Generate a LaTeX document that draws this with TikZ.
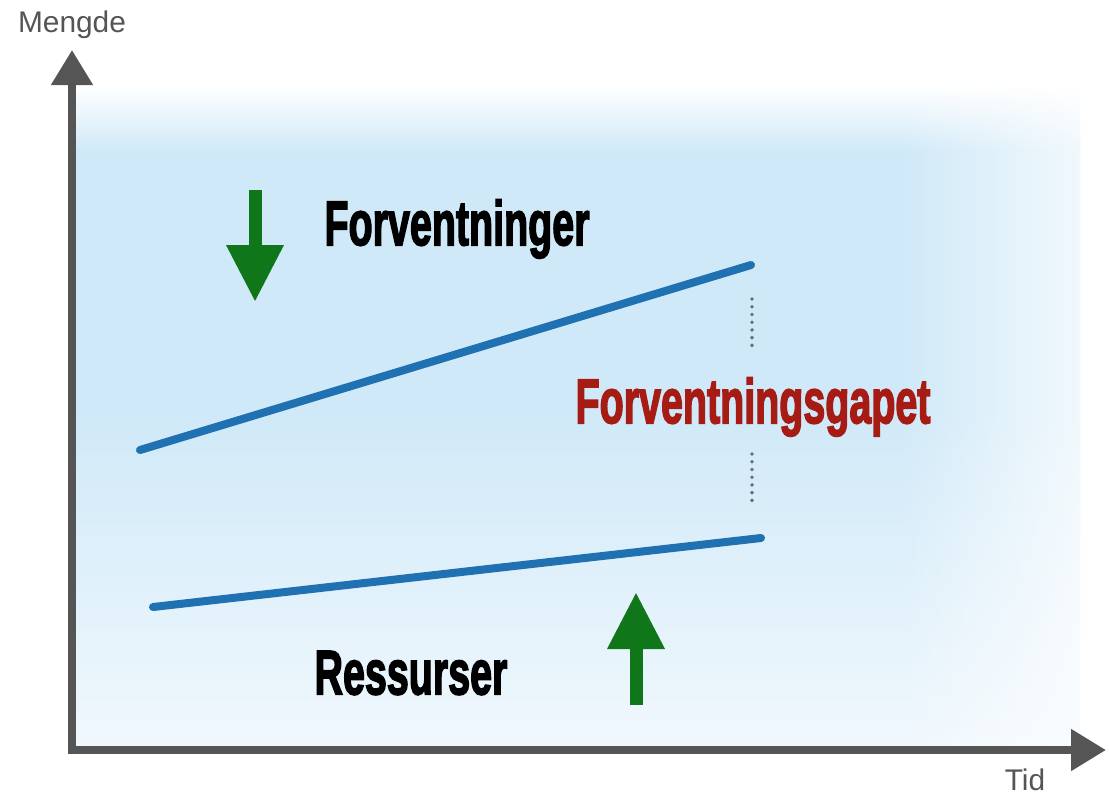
\documentclass[tikz,border=0pt]{standalone}
\usepackage{fontspec}
\setmainfont{Liberation Sans}
\newfontfamily\heavyfont[FakeBold=3]{Liberation Sans Bold}
\usepackage{tikz}
\usetikzlibrary{arrows.meta,positioning,fadings}
\definecolor{axisgray}{RGB}{85,85,85}
\definecolor{lineblue}{RGB}{31,113,178}
\definecolor{arrowgreen}{RGB}{16,118,26}
\definecolor{gapred}{RGB}{166,28,20}
\definecolor{bgblue}{RGB}{208,233,248}
\definecolor{bglight}{RGB}{240,248,253}
\pgfdeclareverticalshading{panelshade}{100bp}{color(0bp)=(bglight); color(25bp)=(bglight); color(50bp)=(bgblue); color(70bp)=(bgblue); color(75bp)=(white); color(100bp)=(white)}
\tikzfading[name=fade right, left color=transparent!100, right color=transparent!0]

\begin{document}
\begin{tikzpicture}[x=0.02cm, y=-0.02cm, inner sep=0pt]

    \tikzstyle{axis}=[draw=axisgray, line width=8*0.02cm, -{Triangle[width=0.8cm,length=0.7cm]}] \tikzstyle{trend}=[draw=lineblue, line width=8*0.02cm, line cap=round] \tikzstyle{gapline}=[draw=gray!85!black, line width=2.2pt, line cap=round, dash pattern=on 0pt off 4.4pt] \tikzstyle{change}=[draw=arrowgreen, line width=13*0.02cm, -{Triangle[width=1.08cm,length=1.14cm]}]
    \tikzstyle{axislabel}=[text=axisgray, font=\fontsize{17}{17}\selectfont] \tikzstyle{bigword}=[font=\heavyfont\fontsize{34}{34}\selectfont, xscale=0.66, yscale=1.05]

    \useasboundingbox (0,0) rectangle (1109,796);
    \shade[shading=panelshade] (72,85) rectangle (1080,746);
    \fill[white, path fading=fade right, fill opacity=0.7] (900,85) rectangle (1080,746);

    \coordinate (O) at (72,750); \coordinate (ytop) at (72,50); \coordinate (xend) at (1106,750);
    \draw[axis] ([yshift=-0.08cm] O) to (ytop);
    \draw[axis] ([xshift=-0.08cm] O) to (xend);
    \node[axislabel] (mengde) at (72,25) {Mengde};
    \node[axislabel] (tid) at (1025,780) {Tid};

    \coordinate (f0) at (140,450); \coordinate (f1) at (751,265);
    \coordinate (r0) at (153,607); \coordinate (r1) at (761,538);
    \draw[trend] (f0) to (f1);
    \draw[trend] (r0) to (r1);

    \node[bigword, text=gapred] (gap) at (753,407) {Forventningsgapet};
    \coordinate (g1) at (752,299); \coordinate (g2) at (752,352);
    \coordinate (g3) at (752,454); \coordinate (g4) at (752,507);
    \draw[gapline] (g1) to (g2);
    \draw[gapline] (g3) to (g4);

    \node[bigword] (forv) at (457,229) {Forventninger};
    \node[bigword] (ress) at (411,673) {Ressurser};
    \coordinate (d0) at (255,190); \coordinate (d1) at (255,302);
    \coordinate (u0) at (636,705); \coordinate (u1) at (636,592);
    \draw[change] (d0) to (d1);
    \draw[change] (u0) to (u1);
  \end{tikzpicture}
\end{document}
